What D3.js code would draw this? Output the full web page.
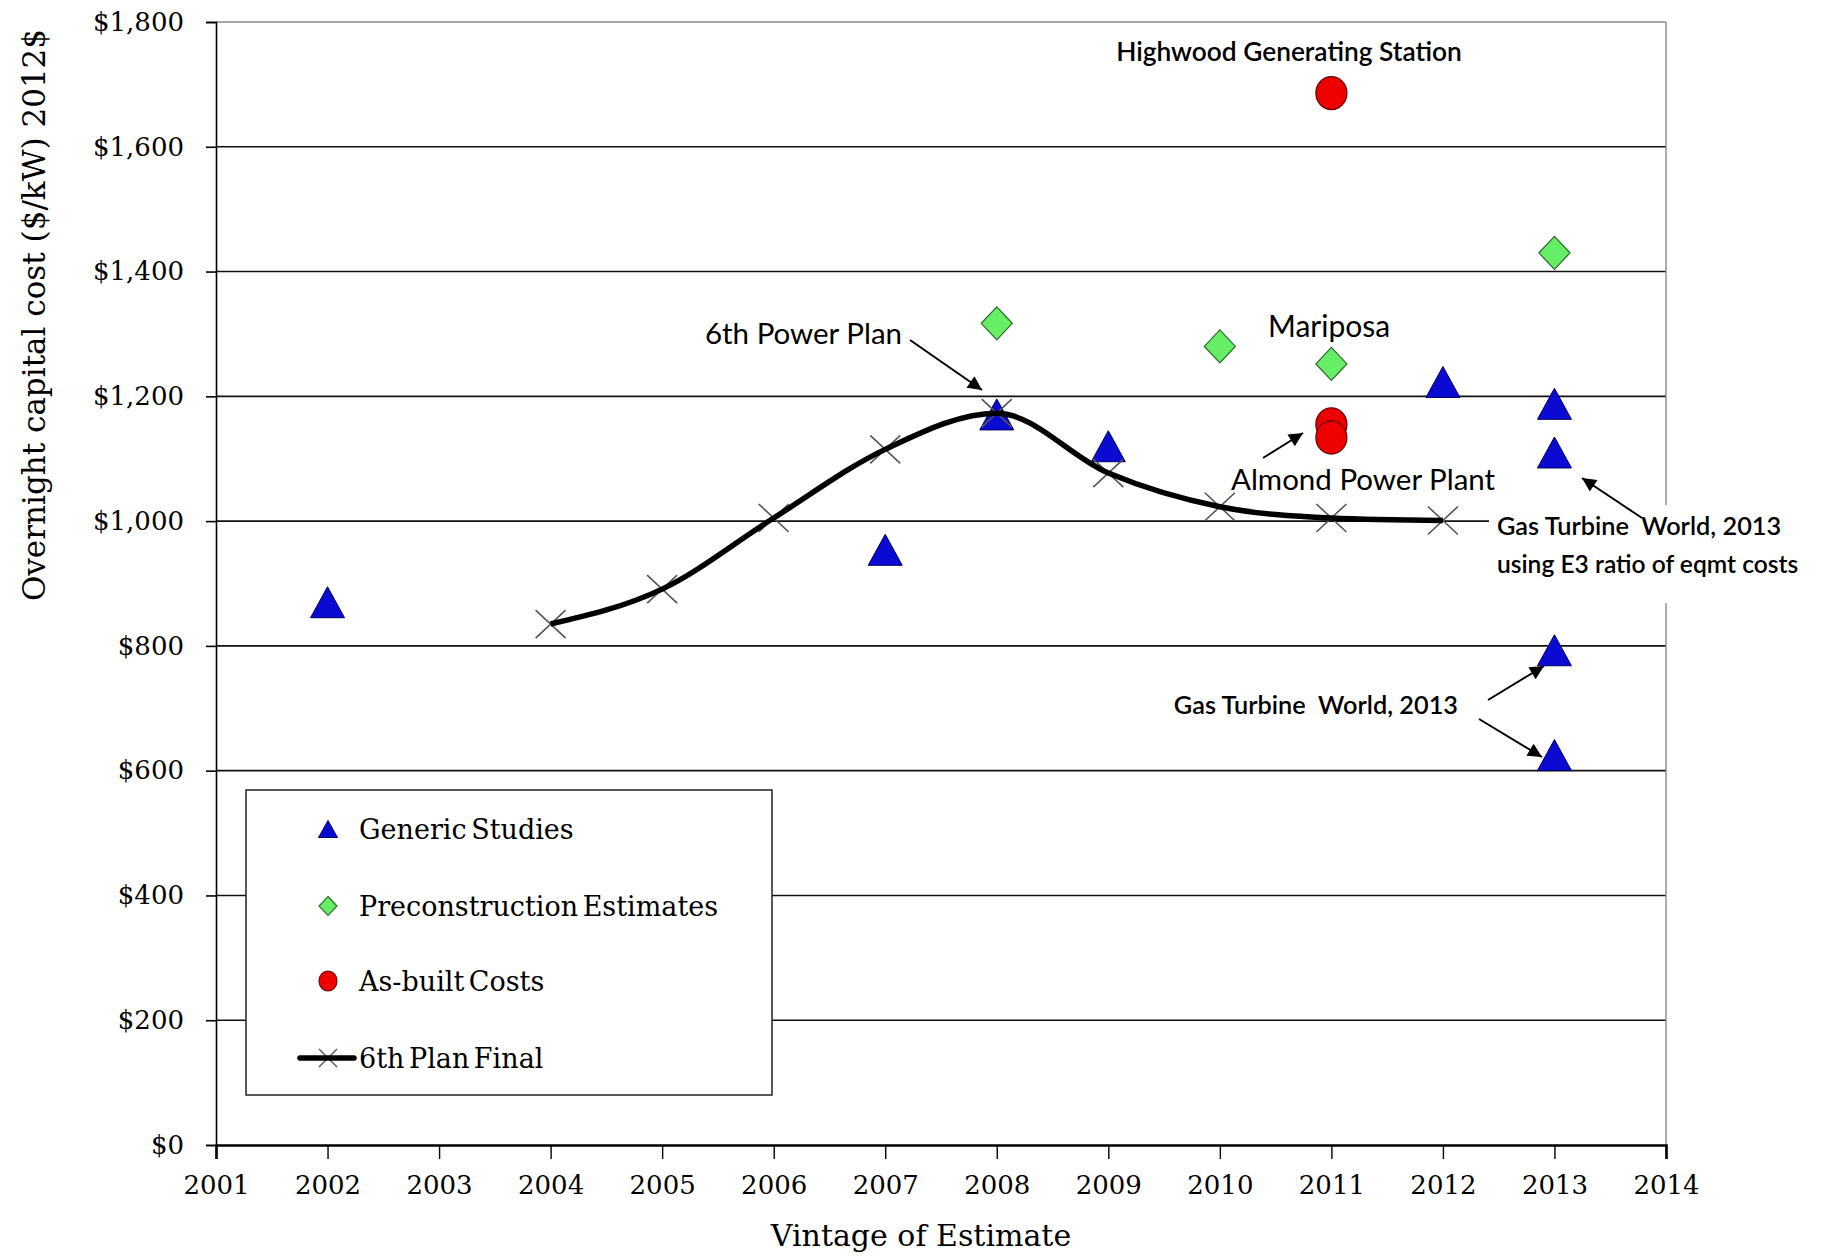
<!DOCTYPE html>
<html><head><meta charset="utf-8">
<script src="https://cdn.jsdelivr.net/npm/d3@7"></script>
<style>body{margin:0;background:#fff}svg{display:block}</style>
</head><body>
<svg id="c" width="1829" height="1257"></svg>
<script>
// ---- data ----
const xTicks = [2001,2002,2003,2004,2005,2006,2007,2008,2009,2010,2011,2012,2013,2014];
const yTicks = [0,200,400,600,800,1000,1200,1400,1600,1800];
const genericYears  = [2002,2007,2008,2009,2012,2013,2013,2013,2013];
const genericValues = [870, 954, 1171,1120,1223,1188,1110,793, 625];
const preconYears  = [2008,2010,2011,2013];
const preconValues = [1317,1280,1252,1430];
const builtYears  = [2011,2011,2011];
const builtValues = [1686,1155,1134];
const planYears  = [2004,2005,2006,2007,2008,2009,2010,2011,2012];
const planValues = [835, 891, 1005,1115,1173,1077,1023,1005,1001];
const legendLabels = ["Generic Studies","Preconstruction Estimates","As-built Costs","6th Plan Final"];

const svg = d3.select("#c");
const W=1829,H=1257, L=216, R=1666, T=22, B=1145;
const x = d3.scaleLinear().domain([2001,2014]).range([L,R]);
const y = d3.scaleLinear().domain([0,1800]).range([B,T]);
const serif = "'DejaVu Serif', 'Liberation Serif', serif";
const sans = "Lato, 'Open Sans', sans-serif";

// defs
const defs = svg.append("defs");
defs.append("marker").attr("id","ah").attr("viewBox","0 0 10 10").attr("refX",10).attr("refY",5)
  .attr("markerWidth",16).attr("markerHeight",14).attr("markerUnits","userSpaceOnUse")
  .attr("orient","auto").append("path").attr("d","M0,0 L10,5 L0,10 Z").attr("fill","#000");

// gridlines
svg.append("g").selectAll("line").data(yTicks.filter(d=>d>0&&d<1800)).join("line")
  .attr("x1",L).attr("x2",R).attr("y1",d=>y(d)).attr("y2",d=>y(d))
  .attr("stroke","#111").attr("stroke-width",1.6);
// top & right border
svg.append("line").attr("x1",L).attr("x2",R).attr("y1",y(1800)).attr("y2",y(1800)).attr("stroke","#888").attr("stroke-width",1.4);
svg.append("line").attr("x1",R).attr("x2",R).attr("y1",T).attr("y2",B).attr("stroke","#888").attr("stroke-width",1.4);

// y axis
const ya = svg.append("g").attr("transform",`translate(${L},0)`)
  .call(d3.axisLeft(y).tickValues(yTicks).tickSize(10).tickPadding(22).tickFormat(d=>"$"+d3.format(",")(d)));
ya.select(".domain").attr("stroke","#000").attr("stroke-width",1.6);
ya.selectAll(".tick line").attr("stroke","#000").attr("stroke-width",1.6);
ya.selectAll(".tick text").attr("font-family",serif).attr("font-size",26).attr("fill","#000");

// x axis
const xa = svg.append("g").attr("transform",`translate(0,${B})`)
  .call(d3.axisBottom(x).tickValues(xTicks).tickSize(14).tickPadding(17).tickFormat(d3.format("d")));
xa.select(".domain").attr("stroke","#000").attr("stroke-width",2.6);
xa.selectAll(".tick line").attr("stroke","#000").attr("stroke-width",1.4);
xa.selectAll(".tick text").attr("font-family",serif).attr("font-size",26).attr("fill","#000");

// axis titles
svg.append("text").attr("transform","translate(45,315) rotate(-90)").attr("text-anchor","middle")
  .attr("font-family",serif).attr("font-size",31).text("Overnight capital cost ($/kW) 2012$");
svg.append("text").attr("x",921).attr("y",1246).attr("text-anchor","middle")
  .attr("font-family",serif).attr("font-size",30).text("Vintage of Estimate");

// marker shapes
const tri = (w,h)=>`M0,${-h/2}L${w/2},${h/2}L${-w/2},${h/2}Z`;
const dia = (w,h)=>`M0,${-h/2}L${w/2},0L0,${h/2}L${-w/2},0Z`;
const cross = (w,h)=>`M${-w/2},${-h/2}L${w/2},${h/2}M${w/2},${-h/2}L${-w/2},${h/2}`;

// generic triangles
svg.append("g").selectAll("path").data(genericYears.map((yr,i)=>[yr,genericValues[i]])).join("path")
  .attr("transform",d=>`translate(${x(d[0])},${y(d[1])})`).attr("d",tri(34,31))
  .attr("fill","#0a0ad2").attr("stroke","#000060").attr("stroke-width",1);

// plan line
const planPts = planYears.map((yr,i)=>[yr,planValues[i]]);
svg.append("g").selectAll("path").data(planPts).join("path")
  .attr("transform",d=>`translate(${x(d[0])},${y(d[1])})`).attr("d",cross(30,28))
  .attr("fill","none").attr("stroke","#555").attr("stroke-width",1.6);
svg.append("path").datum(planPts)
  .attr("d",d3.line().x(d=>x(d[0])).y(d=>y(d[1])).curve(d3.curveMonotoneX))
  .attr("fill","none").attr("stroke","#000").attr("stroke-width",5.5).attr("stroke-linejoin","round");

// diamonds
svg.append("g").selectAll("path").data(preconYears.map((yr,i)=>[yr,preconValues[i]])).join("path")
  .attr("transform",d=>`translate(${x(d[0])},${y(d[1])})`).attr("d",dia(31,33))
  .attr("fill","#66ee66").attr("stroke","#2e6e2e").attr("stroke-width",1.3);

// circles
svg.append("g").selectAll("ellipse").data(builtYears.map((yr,i)=>[yr,builtValues[i]])).join("ellipse")
  .attr("cx",d=>x(d[0])).attr("cy",d=>y(d[1])).attr("rx",15.5).attr("ry",16.5)
  .attr("fill","#ee0000").attr("stroke","#700000").attr("stroke-width",1.3);

// annotations
function note(txt,xx,yy,size,anchor,weight){
  return svg.append("text").attr("x",xx).attr("y",yy).attr("font-family",sans).attr("font-size",size)
    .attr("text-anchor",anchor||"start").attr("font-weight",weight||"normal").attr("fill","#000")
    .style("white-space","pre").text(txt);
}
function arrow(x1,y1,x2,y2){
  svg.append("line").attr("x1",x1).attr("y1",y1).attr("x2",x2).attr("y2",y2)
    .attr("stroke","#000").attr("stroke-width",2).attr("marker-end","url(#ah)");
}
note("Highwood Generating Station",1289,61,26.3,"middle","600");
note("6th Power Plan",902,344,29.5,"end");
arrow(910,340,982,390);
note("Mariposa",1268,337,30);
note("Almond Power Plant",1231,490,29.5);
arrow(1263,458,1303,433);
// white box behind upper GTW label
svg.append("rect").attr("x",1489).attr("y",505).attr("width",320).attr("height",98).attr("fill","#fff");
note("Gas Turbine  World, 2013",1497,535,25.3,"start","600");
note("using E3 ratio of eqmt costs",1497,573,24.6,"start","600");
arrow(1642,518,1582,478);
note("Gas Turbine  World, 2013",1458,714,25.3,"end","600");
arrow(1488,700,1544,666);
arrow(1479,719,1542,757);

// legend
const lg = svg.append("g");
lg.append("rect").attr("x",246).attr("y",790).attr("width",526).attr("height",305)
  .attr("fill","#fff").attr("stroke","#222").attr("stroke-width",1.5);
const ly = [829,906,981,1058];
lg.append("path").attr("transform",`translate(328,${ly[0]})`).attr("d",tri(19,17)).attr("fill","#0a0ad2").attr("stroke","#000060");
lg.append("path").attr("transform",`translate(328,${ly[1]})`).attr("d",dia(18,19)).attr("fill","#66ee66").attr("stroke","#2e6e2e").attr("stroke-width",1.2);
lg.append("ellipse").attr("cx",328).attr("cy",ly[2]).attr("rx",9).attr("ry",10).attr("fill","#ee0000").attr("stroke","#700000").attr("stroke-width",1.2);
lg.append("path").attr("transform",`translate(328,${ly[3]})`).attr("d",cross(18,18)).attr("stroke","#555").attr("stroke-width",1.4).attr("fill","none");
lg.append("line").attr("x1",300).attr("x2",354).attr("y1",ly[3]).attr("y2",ly[3]).attr("stroke","#000").attr("stroke-width",5.5).attr("stroke-linecap","round");
lg.selectAll("text.l").data(legendLabels).join("text").attr("class","l")
  .attr("x",359).attr("y",(d,i)=>ly[i]+10).attr("font-family",serif).attr("font-size",27)
  .attr("word-spacing",-4).attr("fill","#000").text(d=>d);
</script>
</body></html>
